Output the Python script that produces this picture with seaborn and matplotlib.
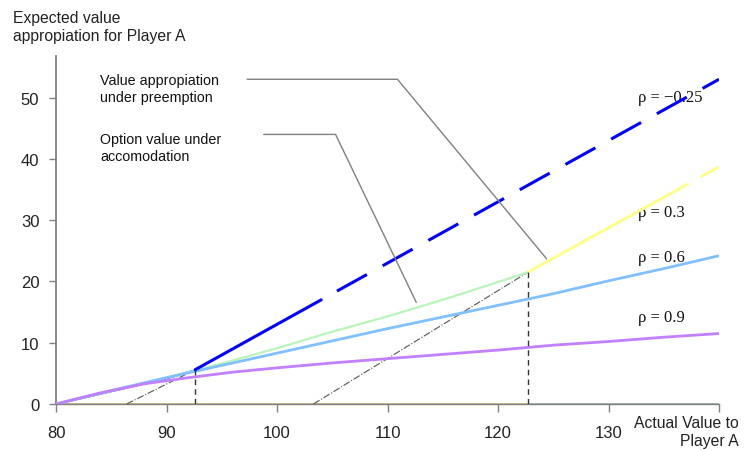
import matplotlib
matplotlib.use("Agg")
import matplotlib.pyplot as plt
import seaborn as sns

# Option value under accomodation (left part of each curve)
x_opt_neg = [80, 86, 90, 92.6]
y_opt_neg = [0, 2.5, 4.2, 5.5]
x_opt_03 = [80, 85, 90, 95, 100, 105, 110, 115, 120, 122.7]
y_opt_03 = [0, 2.1, 4.3, 6.6, 9.1, 11.8, 14.3, 17.0, 19.9, 21.5]
x_06 = [80, 85, 90, 95, 100, 105, 110, 115, 120, 125, 130, 135, 140]
y_06 = [0, 2.2, 4.3, 6.3, 8.3, 10.3, 12.3, 14.2, 16.1, 18.0, 20.1, 22.1, 24.2]
x_09 = [80, 84, 88, 92, 96, 100, 105, 110, 115, 120, 125, 130, 135, 140]
y_09 = [0, 1.8, 3.3, 4.3, 5.2, 5.9, 6.7, 7.4, 8.1, 8.8, 9.6, 10.2, 10.9, 11.5]

# Value appropiation under preemption
x_pre_neg_solid = [92.6, 104.0]
y_pre_neg_solid = [5.6, 17.0]
x_pre_neg_dash = [104.0, 140]
y_pre_neg_dash = [17.0, 53.0]
x_pre_03 = [122.7, 140]
y_pre_03 = [21.5, 38.7]

# thresholds and helper lines
thresholds = [92.6, 122.7]
threshold_vals = [5.6, 21.5]
x_helper1 = [86.4, 92.6]
y_helper1 = [0, 5.6]
x_helper2 = [103.3, 122.7]
y_helper2 = [0, 21.5]
x_zero_left = [80, 122.7]
x_zero_right = [122.7, 140]
y_zero = [0, 0]

# annotation leader lines
lead1_x = [97.3, 110.9, 124.4]
lead1_y = [53.0, 53.0, 23.7]
lead2_x = [98.8, 105.3, 112.6]
lead2_y = [44.0, 44.0, 16.6]

rho_labels = ["ρ = −0.25", "ρ = 0.3", "ρ = 0.6", "ρ = 0.9"]
rho_label_y = [50.1, 31.3, 24.0, 14.2]

x_ticks = [80, 90, 100, 110, 120, 130, 140]
x_tick_labels = ["80", "90", "100", "110", "120", "130", ""]
y_ticks = [0, 10, 20, 30, 40, 50]

sns.set_style("white")
plt.rcParams["font.family"] = ["Liberation Sans", "DejaVu Sans"]

fig = plt.figure(figsize=(7.55, 4.52), dpi=100)
ax = fig.add_axes([56 / 755, 47 / 452, 663 / 755, 348 / 452])

blue = "#0000ff"
green = "#b8f5b8"
yellow = "#ffff80"
lblue = "#80c0ff"
purple = "#c080ff"
gray = "#808080"


def line(x, y, **kw):
    sns.lineplot(x=x, y=y, ax=ax, estimator=None, sort=False, **kw)


line(x_zero_left, y_zero, color="#c8bc7c", lw=2, zorder=2)
line(x_zero_right, y_zero, color="#9cb4a2", lw=2, zorder=2)

line(x_opt_neg, y_opt_neg, color=blue, lw=1.5, zorder=3)
line(x_opt_03, y_opt_03, color=green, lw=1.6, zorder=4)
line(x_06, y_06, color=lblue, lw=2, zorder=5)
line(x_09, y_09, color=purple, lw=2, zorder=6)

line(x_pre_neg_solid, y_pre_neg_solid, color=blue, lw=2.2, zorder=7)
line(x_pre_neg_dash, y_pre_neg_dash, color=blue, lw=2.2, zorder=7,
     linestyle=(11.2, (11.2, 5.9)))
line(x_pre_03, y_pre_03, color=yellow, lw=2, zorder=7,
     linestyle=(0, (66, 5)))

line(x_helper1, y_helper1, color="#555555", lw=0.8, linestyle="-.", zorder=3)
line(x_helper2, y_helper2, color="#555555", lw=0.8, linestyle="-.", zorder=3)
ax.vlines(thresholds, 0, threshold_vals, colors="#333333", lw=1,
          linestyles=(0, (4, 3)), zorder=8)

line(lead1_x, lead1_y, color=gray, lw=1, zorder=9)
line(lead2_x, lead2_y, color=gray, lw=1, zorder=9)

ax.text(84.0, 51.5, "Value appropiation\nunder preemption", fontsize=10.3,
        va="center", ha="left", color="#111111", linespacing=1.3)
ax.text(84.0, 41.9, "Option value under\naccomodation", fontsize=10.3,
        va="center", ha="left", color="#111111", linespacing=1.3)

for lab, yy in zip(rho_labels, rho_label_y):
    ax.text(132.7, yy, lab, fontsize=12, va="center", ha="left",
            family=["Liberation Serif", "DejaVu Serif"], color="#111111",
            zorder=6)

ax.set_xlim(80, 140)
ax.set_ylim(0, 56.8)
ax.set_xticks(x_ticks)
ax.set_xticklabels(x_tick_labels)
ax.set_yticks(y_ticks)
ax.tick_params(axis="x", direction="out", length=6, width=1, color=gray,
               pad=9, labelsize=12, labelcolor="#222222", bottom=True)
ax.tick_params(axis="y", direction="out", length=5, width=1, color=gray,
               pad=7, labelsize=12, labelcolor="#222222", left=True)
ax.set_xlabel("")
ax.set_ylabel("")
for side in ["top", "right"]:
    ax.spines[side].set_visible(False)
ax.spines["left"].set_color(gray)
ax.spines["left"].set_linewidth(1.3)
ax.spines["bottom"].set_color(gray)
ax.spines["bottom"].set_linewidth(1)

fig.text(13 / 755, 1 - 27 / 452, "Expected value\nappropiation for Player A",
         fontsize=11.3, va="center", ha="left", color="#222222", linespacing=1.25)
fig.text(739 / 755, 1 - 433 / 452, "Actual Value to\nPlayer A", fontsize=11.3,
         va="center", ha="right", multialignment="right", color="#222222",
         linespacing=1.25)

fig.savefig("out.png", dpi=100)
